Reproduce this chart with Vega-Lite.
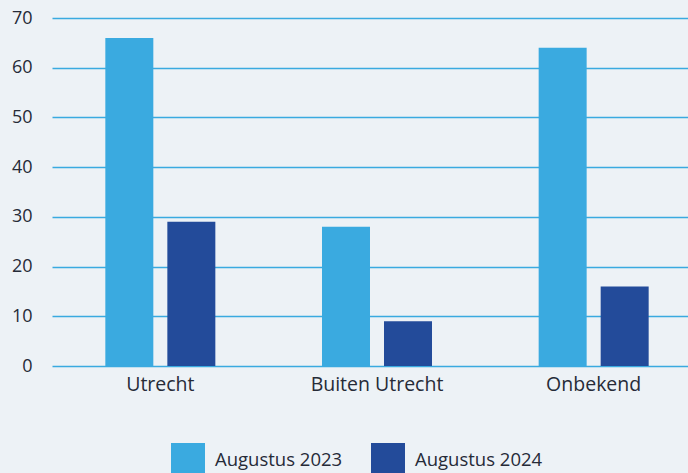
{
  "$schema": "https://vega.github.io/schema/vega-lite/v6.json",
  "width": 636,
  "height": 348,
  "autosize": "none",
  "padding": {"left": 52, "top": 18, "right": 0, "bottom": 107},
  "background": "#edf2f6",
  "data": {"values": [
    {"regio": "Utrecht", "periode": "Augustus 2023", "aantal": 66},
    {"regio": "Utrecht", "periode": "Augustus 2024", "aantal": 29},
    {"regio": "Buiten Utrecht", "periode": "Augustus 2023", "aantal": 28},
    {"regio": "Buiten Utrecht", "periode": "Augustus 2024", "aantal": 9},
    {"regio": "Onbekend", "periode": "Augustus 2023", "aantal": 64},
    {"regio": "Onbekend", "periode": "Augustus 2024", "aantal": 16}
  ]},
  "mark": {"type": "bar"},
  "encoding": {
    "x": {"field": "regio", "type": "nominal", "sort": ["Utrecht", "Buiten Utrecht", "Onbekend"],
      "scale": {"range": [0, 650], "paddingInner": 0, "paddingOuter": 0},
      "axis": {"title": null, "labelAngle": 0, "domain": false, "ticks": false, "labelPadding": 9, "labelFontSize": 19.5}},
    "xOffset": {"field": "periode", "type": "nominal", "scale": {"paddingInner": 0.226, "paddingOuter": 0.86}},
    "y": {"field": "aantal", "type": "quantitative",
      "scale": {"domain": [0, 70]},
      "axis": {"title": null, "values": [0,10,20,30,40,50,60,70], "domain": false, "ticks": false, "labelPadding": 20, "labelFontSize": 18, "gridColor": "#3aaae0", "gridWidth": 1.5, "gridOpacity": 1}},
    "color": {"field": "periode", "type": "nominal",
      "scale": {"range": ["#3aaae0", "#234b9a"]},
      "legend": {"title": null, "orient": "none", "legendX": 119, "legendY": 425, "direction": "horizontal",
        "symbolType": "square", "symbolSize": 1156, "symbolStrokeWidth": 0, "symbolOpacity": 1,
        "labelFontSize": 18.5, "labelOffset": 10, "columnPadding": 28, "labelColor": "#262b38"}}
  },
  "config": {
    "font": "Open Sans",
    "view": {"stroke": null},
    "axis": {"labelColor": "#262b38", "labelFont": "Open Sans"},
    "legend": {"labelFont": "Open Sans"}
  }
}
